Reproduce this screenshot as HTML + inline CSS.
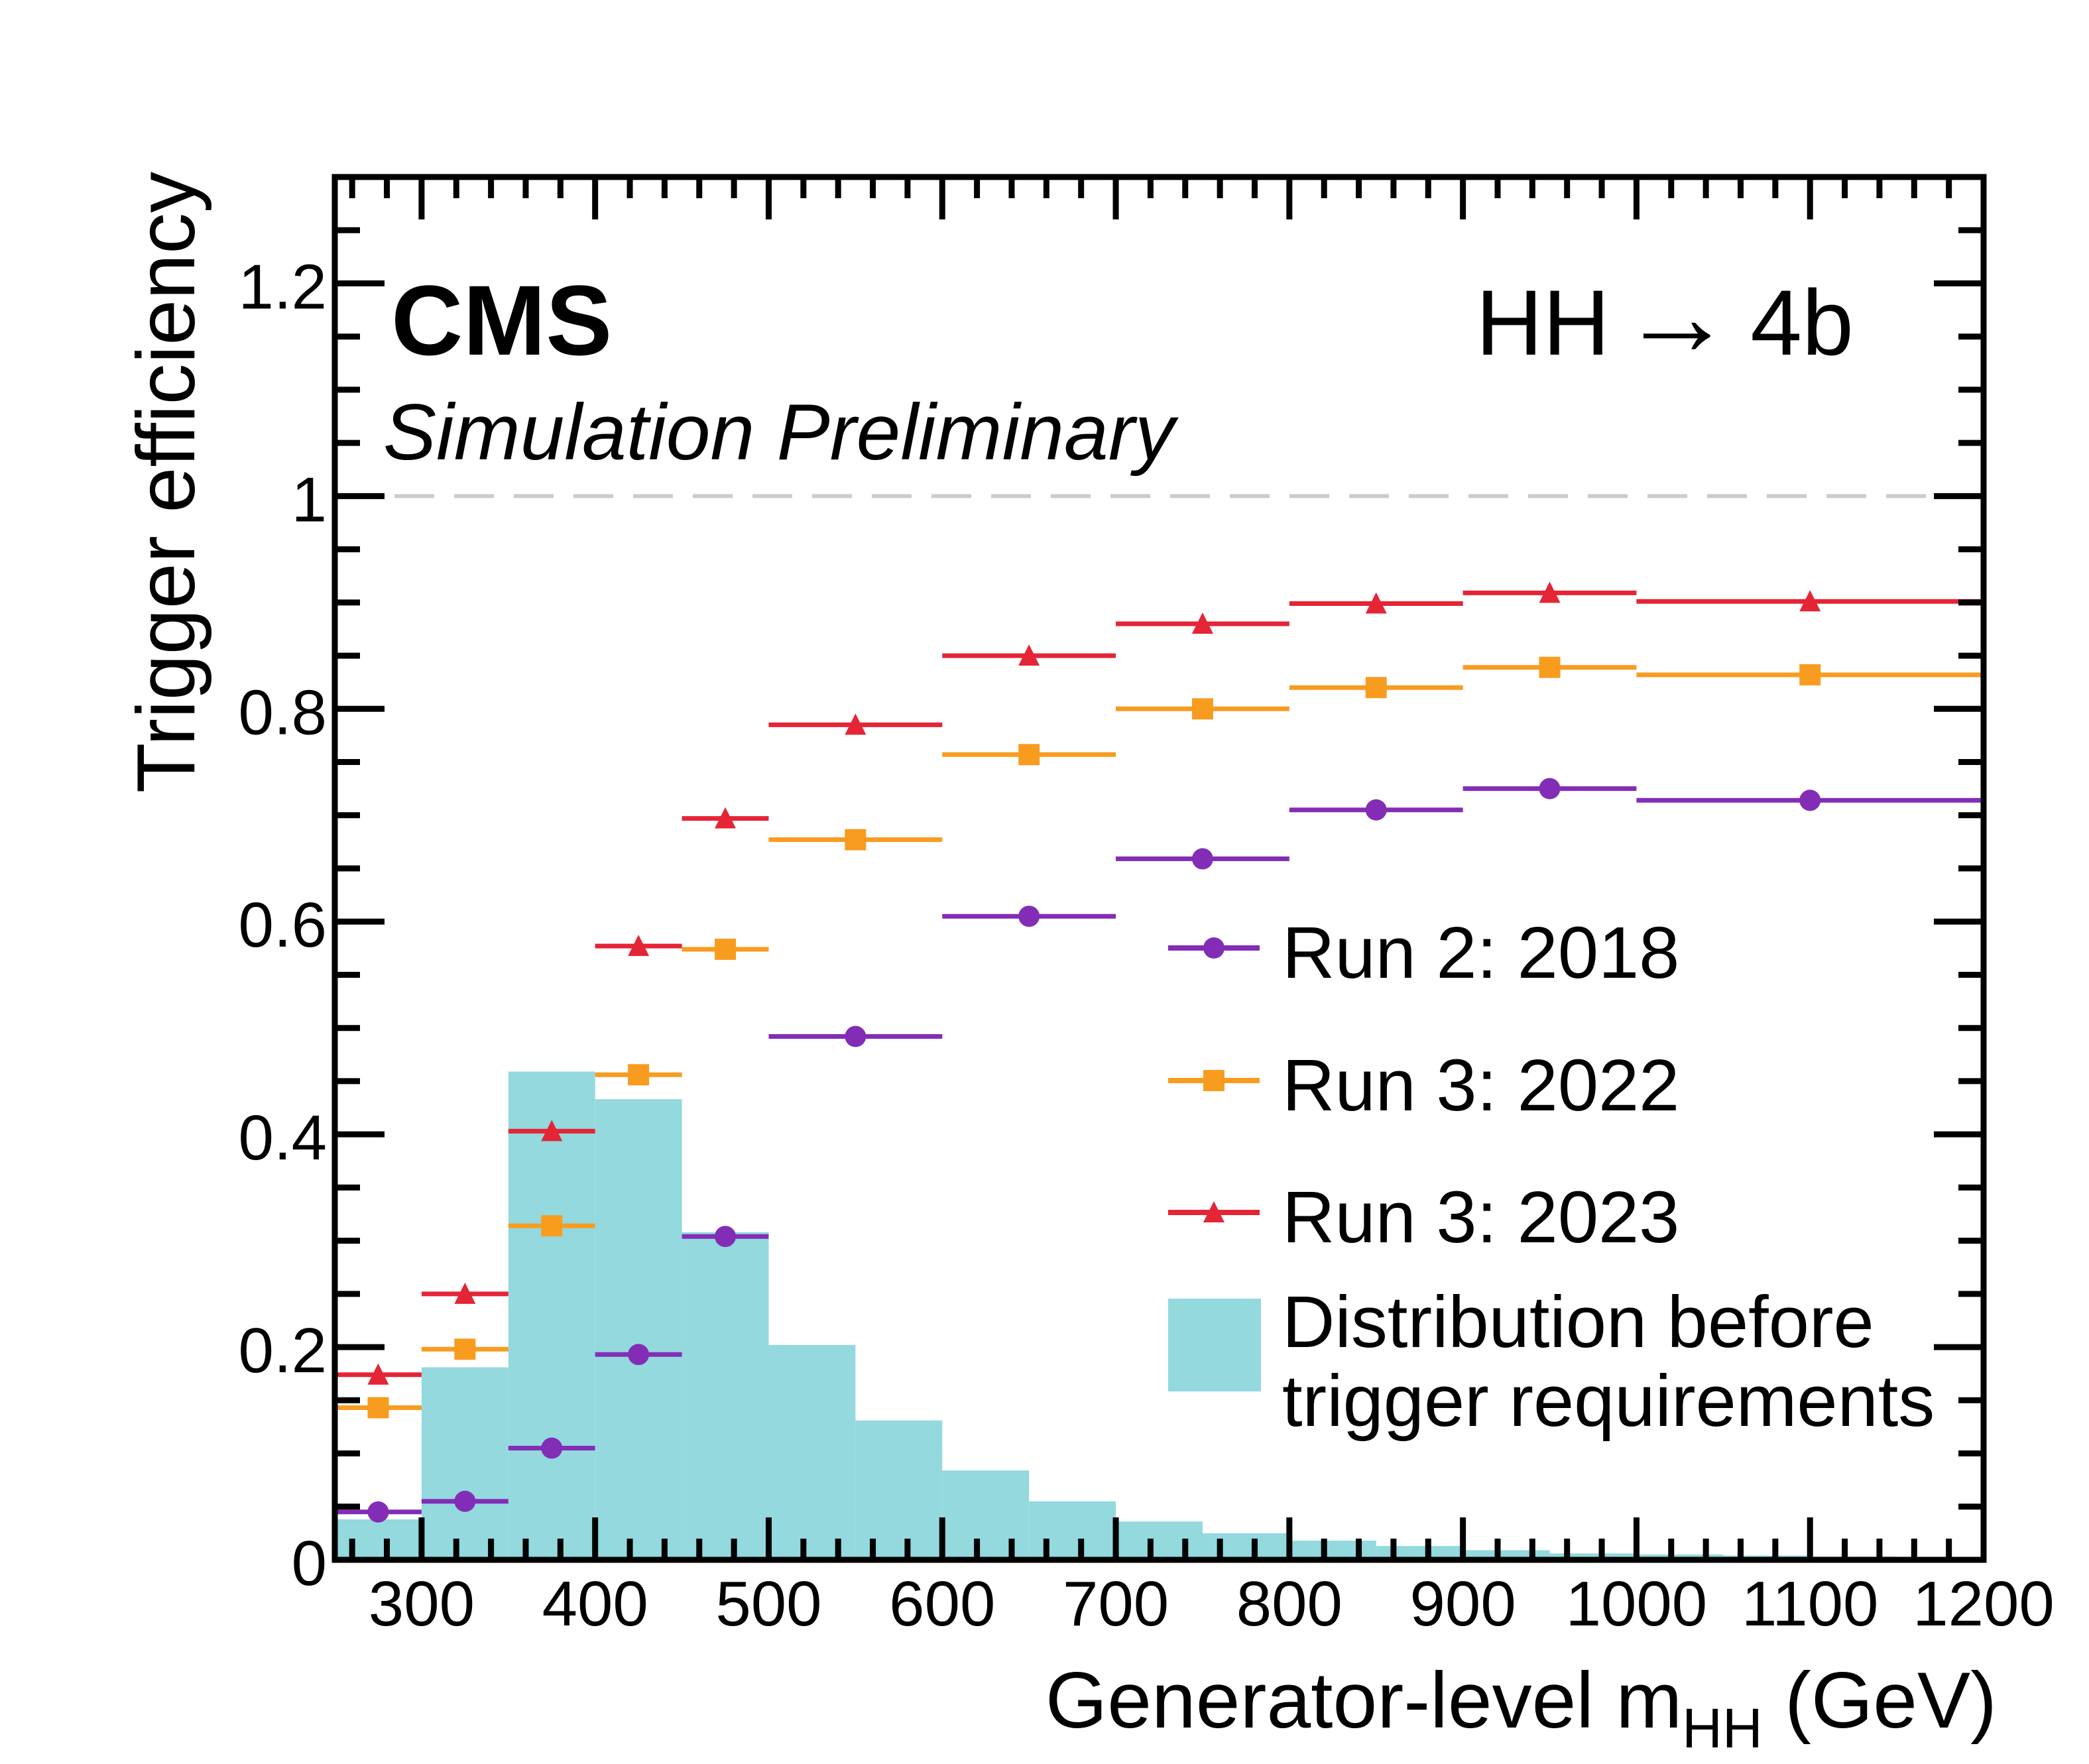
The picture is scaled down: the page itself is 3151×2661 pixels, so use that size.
<!DOCTYPE html>
<html><head><meta charset="utf-8"><style>
html,body{margin:0;padding:0;background:#fff;}
svg{display:block;font-family:"Liberation Sans",sans-serif;}
</style></head><body>
<svg id="chart" width="3151" height="2661" viewBox="0 0 3151 2661">
<g id="hist"></g>
<g id="refline"></g>
<g id="series"></g>
<g id="axes"></g>
<text x="590" y="535" font-size="150" font-weight="bold">CMS</text>
<text x="578" y="693" font-size="120" font-style="italic">Simulation Preliminary</text>
<text x="2226" y="535" font-size="140">HH<tspan font-size="170" dx="16">→</tspan><tspan dx="26">4b</tspan></text>
<text transform="translate(293,259) rotate(-90)" font-size="124" text-anchor="end">Trigger efficiency</text>
<text x="3012" y="2606" font-size="120" text-anchor="end">Generator-level m<tspan font-size="84" dy="30">HH</tspan><tspan dy="-30"> (GeV)</tspan></text>
<g id="legend"></g>
</svg>
<script>
const binEdges=[250,300,350,400,450,500,600,700,800,900,1000,1200];
const run2018=[0.045,0.055,0.105,0.193,0.304,0.492,0.605,0.659,0.705,0.725,0.714];
const run2022=[0.143,0.198,0.314,0.456,0.574,0.677,0.757,0.800,0.820,0.839,0.832];
const run2023=[0.174,0.250,0.403,0.577,0.697,0.785,0.850,0.880,0.899,0.909,0.901];
const histEdgesStart=250, histBinWidth=50;
const histValues=[0.038,0.181,0.459,0.433,0.308,0.202,0.131,0.084,0.055,0.036,0.025,0.018,0.013,0.009,0.006,0.005,0.004,0.003,0.002];
const yTicks=[0,0.2,0.4,0.6,0.8,1,1.2];
const yTickLabels=["0","0.2","0.4","0.6","0.8","1","1.2"];
const xTicks=[300,400,500,600,700,800,900,1000,1100,1200];
const xTickLabels=["300","400","500","600","700","800","900","1000","1100","1200"];

const NS="http://www.w3.org/2000/svg";
const L=505,R=2992,T=267,B=2353,XMIN=250,XMAX=1200,YMIN=0,YMAX=1.3;
const X=v=>L+(v-XMIN)/(XMAX-XMIN)*(R-L);
const Y=v=>B-(v-YMIN)/(YMAX-YMIN)*(B-T);
function mk(tag,attrs,parent){const e=document.createElementNS(NS,tag);for(const k in attrs)e.setAttribute(k,attrs[k]);parent.appendChild(e);return e;}

const hist=document.getElementById('hist');
histValues.forEach((v,i)=>{const x0=histEdgesStart+i*histBinWidth;
 const r=mk('rect',{x:X(x0),y:Y(v),width:X(x0+histBinWidth)-X(x0),height:B-Y(v),fill:'#93d9de'},hist);
 
 });

mk('line',{x1:L,x2:R,y1:Y(1),y2:Y(1),stroke:'#cccccc','stroke-width':6,'stroke-dasharray':'60,30'},document.getElementById('refline'));

const colors=['#832db6','#f89c20','#e42536'];
const names=['run2-2018','run3-2022','run3-2023'];
const seriesG=document.getElementById('series');
function marker(kind,cx,cy,col,parent){
 if(kind===0)return mk('circle',{cx:cx,cy:cy,r:16,fill:col},parent);
 if(kind===1)return mk('rect',{x:cx-16,y:cy-16,width:32,height:32,fill:col},parent);
 return mk('polygon',{points:`${cx},${cy-17} ${cx+16},${cy+15} ${cx-16},${cy+15}`,fill:col},parent);
}
[run2018,run2022,run2023].forEach((arr,s)=>{
 const g=mk('g',{},seriesG);
 
 
 arr.forEach((v,i)=>{const a=binEdges[i],b=binEdges[i+1],c=(a+b)/2;
  const ln=mk('line',{x1:X(a),x2:X(b),y1:Y(v),y2:Y(v),stroke:colors[s],'stroke-width':7},g);
  
  
  const m=marker(s,X(c),Y(v),colors[s],g);
  
  });
});

const ax=document.getElementById('axes');
for(let v=0;v<=1.3001;v+=0.05){const y=Y(v);const major=Math.abs(v/0.2-Math.round(v/0.2))<1e-6;const len=major?75:38;
 mk('line',{x1:L,x2:L+len,y1:y,y2:y,stroke:'#000','stroke-width':9},ax);
 mk('line',{x1:R,x2:R-len,y1:y,y2:y,stroke:'#000','stroke-width':9},ax);}
for(let v=260;v<=1200;v+=20){const x=X(v);const major=v%100===0;const len=major?64:32;
 mk('line',{x1:x,x2:x,y1:B,y2:B-len,stroke:'#000','stroke-width':9},ax);
 mk('line',{x1:x,x2:x,y1:T,y2:T+len,stroke:'#000','stroke-width':9},ax);}
const fr=mk('rect',{x:L,y:T,width:R-L,height:B-T,fill:'none',stroke:'#000','stroke-width':9},ax);


yTicks.forEach((v,i)=>{const t=mk('text',{x:493,y:Y(v)+38,'font-size':96,'text-anchor':'end'},ax);t.textContent=yTickLabels[i];
 
 });
xTicks.forEach((v,i)=>{const t=mk('text',{x:X(v),y:2452,'font-size':96,'text-anchor':'middle'},ax);t.textContent=xTickLabels[i];
 
 });

const lg=document.getElementById('legend');
const labels=['Run 2: 2018','Run 3: 2022','Run 3: 2023'];
const ly=[1430,1630,1829];
labels.forEach((lab,s)=>{const g=mk('g',{},lg);
 
 
 mk('line',{x1:1762,x2:1900,y1:ly[s],y2:ly[s],stroke:colors[s],'stroke-width':8},g);
 marker(s,1831,ly[s],colors[s],g);
 const t=mk('text',{x:1934,y:ly[s]+45,'font-size':110},g);t.textContent=lab;});
const hg=mk('g',{},lg);


mk('rect',{x:1762,y:1959,width:140,height:140,fill:'#93d9de'},hg);
const t1=mk('text',{x:1934,y:2032,'font-size':110},hg);t1.textContent='Distribution before';
const t2=mk('text',{x:1934,y:2151,'font-size':110},hg);t2.textContent='trigger requirements';
</script>
</body></html>
